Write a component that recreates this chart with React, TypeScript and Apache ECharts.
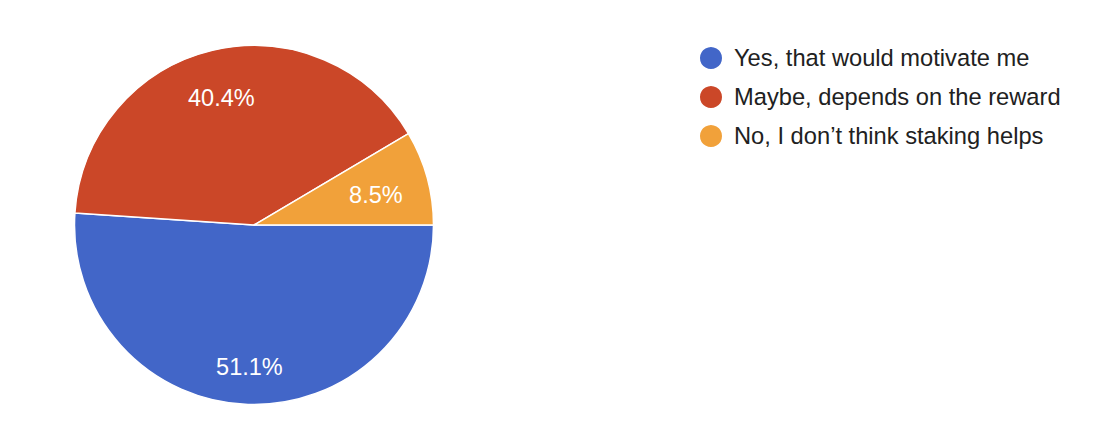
import React, { useEffect, useRef } from "react";
import * as echarts from "echarts";

const categories = [
  "Yes, that would motivate me",
  "Maybe, depends on the reward",
  "No, I don\u2019t think staking helps",
];
const responses = [24, 19, 4];
const colors = ["#4266C8", "#CB4728", "#F1A13A"];
const labelOffsets = [
  [0, 5],
  [-1, 6],
  [-10, 6],
];

const FONT = "'Liberation Sans', Arial, Helvetica, sans-serif";

export default function App() {
  const ref = useRef<HTMLDivElement>(null);
  useEffect(() => {
    if (!ref.current) return;
    const chart = echarts.init(ref.current, undefined, { renderer: "svg" });
    const data = categories.map((name, i) => ({
      name,
      value: responses[i],
      itemStyle: { color: colors[i] },
    }));
    chart.setOption({
      animation: false,
      backgroundColor: "#ffffff",
      legend: {
        orient: "vertical",
        left: 698,
        top: 45,
        padding: 0,
        itemWidth: 24,
        itemHeight: 24,
        itemGap: 13,
        icon: "circle",
        data: categories,
        textStyle: {
          fontFamily: FONT,
          fontSize: 23.7,
          lineHeight: 24,
          color: "#212121",
          padding: [0, 0, 0, 6],
        },
      },
      series: [
        {
          type: "pie",
          center: [254, 225],
          radius: [0, 179.5],
          startAngle: 0,
          clockwise: true,
          silent: true,
          label: { show: false },
          labelLine: { show: false },
          itemStyle: { borderColor: "#ffffff", borderWidth: 1.5 },
          data,
        },
        {
          type: "pie",
          center: [254, 225],
          radius: [88, 179.5],
          startAngle: 0,
          clockwise: true,
          silent: true,
          legendHoverLink: false,
          itemStyle: { color: "rgba(0,0,0,0)", borderWidth: 0 },
          label: {
            show: true,
            position: "inside",
            color: "#ffffff",
            fontFamily: FONT,
            fontSize: 23.5,
            formatter: (p: any) => p.percent.toFixed(1) + "%",
          },
          labelLine: { show: false },
          data: categories.map((name, i) => ({
            name,
            value: responses[i],
            label: { offset: labelOffsets[i] },
          })),
        },
      ],
    });
    return () => chart.dispose();
  }, []);
  return (
    <div
      ref={ref}
      style={{ position: "fixed", left: 0, top: 0, width: 1094, height: 442 }}
    />
  );
}
